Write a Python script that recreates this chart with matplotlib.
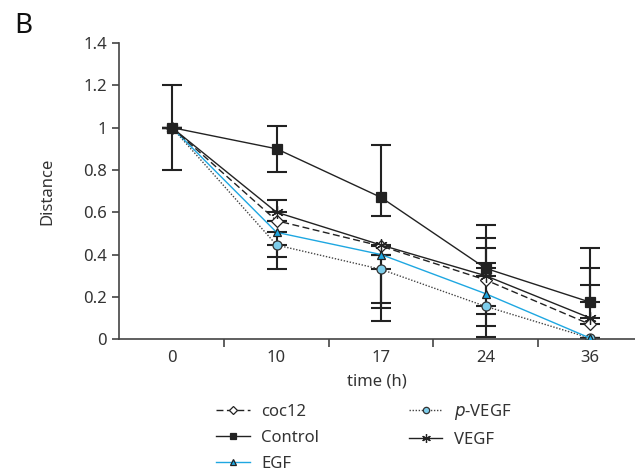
import matplotlib.pyplot as plt
import numpy as np

plt.rcParams['font.family'] = ['Noto Sans', 'DejaVu Sans']

times = ["0", "10", "17", "24", "36"]

coc12 = [1.0, 0.56, 0.44, 0.28, 0.07]
control = [1.0, 0.90, 0.67, 0.335, 0.175]
egf = [1.0, 0.505, 0.40, 0.215, 0.005]
p_vegf = [1.0, 0.445, 0.33, 0.155, 0.005]
vegf = [1.0, 0.60, 0.445, 0.30, 0.10]

# (lower, upper) error lengths
control_err = ([0.20, 0.11, 0.09, 0.0, 0.0], [0.20, 0.11, 0.25, 0.205, 0.255])
vegf_err = ([0.0, 0.0, 0.30, 0.0, 0.0], [0.0, 0.06, 0.0, 0.18, 0.235])
coc12_err = ([0.0, 0.0, 0.27, 0.27, 0.0], [0.0, 0.0, 0.0, 0.15, 0.185])
egf_err = ([0.0, 0.115, 0.0, 0.095, 0.0], [0.0, 0.0, 0.0, 0.145, 0.0])
p_vegf_err = ([0.0, 0.115, 0.245, 0.095, 0.0], [0.0, 0.0, 0.0, 0.0, 0.0])

blue = "#1ea7e1"
light_blue = "#7dcdeb"
ink = "#222222"
grey_txt = "#333333"

fig = plt.figure(figsize=(6.35, 4.73), dpi=100)
ax = fig.add_axes([0.187, 0.283, 0.813, 0.626])

x = np.arange(len(times))

series = [
    ("coc12", coc12, coc12_err, 3.2, dict(color=ink, ls=(0, (5, 2.5)), marker="D", mfc="white", mec=ink, ms=6)),
    ("Control", control, control_err, 3.6, dict(color=ink, ls="-", marker="s", mfc=ink, mec=ink, ms=7)),
    ("EGF", egf, egf_err, 3.1, dict(color=blue, ls="-", marker="^", mfc=blue, mec=ink, ms=6)),
    ("$p$-VEGF", p_vegf, p_vegf_err, 3.0, dict(color="#444444", ls=(0, (1, 1.2)), marker="o", mfc=light_blue, mec="#333333", ms=6.5)),
    ("VEGF", vegf, vegf_err, 3.3, dict(color=ink, ls="-", marker=(6, 2, 0), mfc=ink, mec=ink, ms=9)),
]

handles = {}
for name, vals, err, z, style in series:
    ax.errorbar(x, vals, yerr=np.array(err), fmt="none", ecolor=ink, elinewidth=1.5,
                capsize=7, capthick=1.5, zorder=2)
    h, = ax.plot(x, vals, lw=1.0, mew=0.9, zorder=z, label=name, **style)
    handles[name] = h

ax.set_xlim(-0.51, 4.43)
ax.set_ylim(0, 1.4)
ax.set_yticks(np.arange(0, 1.41, 0.2))
ax.set_yticklabels(["0", "0.2", "0.4", "0.6", "0.8", "1", "1.2", "1.4"])
ax.set_xticks(x)
ax.set_xticklabels(times)
ax.set_xticks(x[:-1] + 0.5, minor=True)
ax.tick_params(axis="x", which="major", length=0, pad=8, labelsize=12, colors=grey_txt)
ax.tick_params(axis="x", which="minor", length=6, width=1.2, color="#444444")
ax.tick_params(axis="y", length=5, width=1.2, color="#444444", labelsize=12, labelcolor=grey_txt)

for side in ("top", "right"):
    ax.spines[side].set_visible(False)
for side in ("left", "bottom"):
    ax.spines[side].set_color("#444444")
    ax.spines[side].set_linewidth(1.2)

ax.set_xlabel("time (h)", fontsize=12, color=grey_txt, labelpad=5)
ax.set_ylabel("Distance", fontsize=12, color=grey_txt, labelpad=20)

order = ["coc12", "Control", "EGF", "$p$-VEGF", "VEGF"]
fig.legend([handles[n] for n in order], order, loc="upper left", bbox_to_anchor=(0.33, 0.165),
           ncol=2, frameon=False, fontsize=12, handlelength=2.0, columnspacing=5.4,
           labelspacing=0.6, handletextpad=0.7, markerscale=0.7, labelcolor=grey_txt,
           borderaxespad=0.0)

fig.text(0.022, 0.975, "B", fontsize=20, va="top", ha="left", color="#111111")

fig.savefig("out.png", dpi=100)
